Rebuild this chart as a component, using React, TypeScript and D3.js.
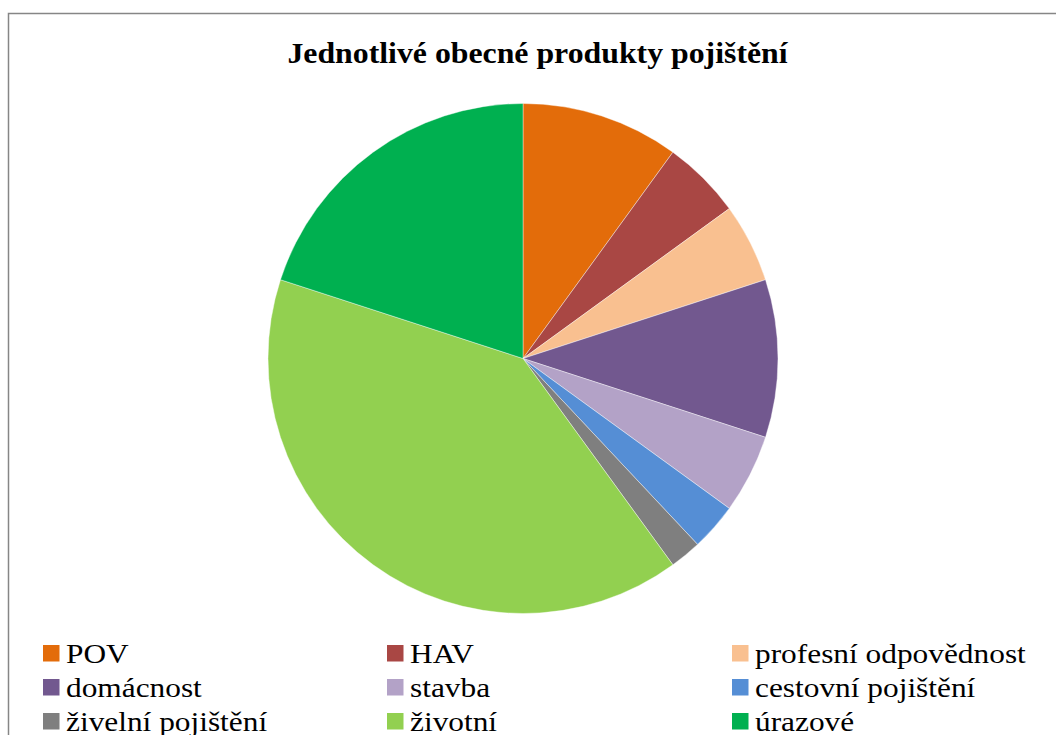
import React from "react";
import * as d3 from "d3";

const categories = [
  "POV",
  "HAV",
  "profesní odpovědnost",
  "domácnost",
  "stavba",
  "cestovní pojištění",
  "živelní pojištění",
  "životní",
  "úrazové",
];
const values = [10, 5, 5, 10, 5, 3, 2, 40, 20];
const colors = [
  "#E36C0A",
  "#A94744",
  "#F9C090",
  "#72588F",
  "#B3A2C7",
  "#558ED5",
  "#7F7F7F",
  "#92D050",
  "#00B050",
];
const title = "Jednotlivé obecné produkty pojištění";

const SERIF = "Liberation Serif, Tinos, Times New Roman, DejaVu Serif, serif";

export default function App() {
  const W = 1056;
  const H = 735;
  const cx = 523;
  const cy = 358.5;
  const r = 255;

  const data = categories.map((c, i) => ({ c, v: values[i], color: colors[i] }));
  const pie = d3
    .pie<{ c: string; v: number; color: string }>()
    .value((d) => d.v)
    .sort(null)
    .startAngle(0)
    .endAngle(2 * Math.PI);
  const arcs = pie(data);
  const arc = d3
    .arc<d3.PieArcDatum<{ c: string; v: number; color: string }>>()
    .innerRadius(0)
    .outerRadius(r);

  const colX = [43, 387, 732];
  const rowY = [645, 679, 713];
  const sq = 16.5;
  const fs = 28;
  const sx = 1.12;

  return (
    <svg
      width={W}
      height={H}
      style={{ position: "absolute", left: 0, top: 0, display: "block" }}
    >
      <rect x={0} y={0} width={W} height={H} fill="#fff" />
      <rect
        x={8.5}
        y={13.5}
        width={W + 20}
        height={H + 20}
        fill="none"
        stroke="#868686"
        strokeWidth={1.5}
      />
      <text
        transform={`translate(537.5,63) scale(1.06,1)`}
        textAnchor="middle"
        style={{ fontFamily: SERIF, fontWeight: "bold", fontSize: "30px" }}
        fill="#000"
      >
        {title}
      </text>
      <g transform={`translate(${cx},${cy})`}>
        {arcs.map((a, i) => (
          <path key={i} d={arc(a) || ""} fill={a.data.color} stroke="#fff" strokeWidth={0.4} />
        ))}
      </g>
      {data.map((d, i) => {
        const col = i % 3;
        const row = Math.floor(i / 3);
        const x = colX[col];
        const y = rowY[row];
        return (
          <g key={d.c}>
            <rect x={x} y={y} width={sq} height={sq} fill={d.color} />
            <text
              transform={`translate(${x + 23},${y + 18}) scale(${sx},1)`}
              style={{ fontFamily: SERIF, fontSize: `${fs}px` }}
              fill="#000"
            >
              {d.c}
            </text>
          </g>
        );
      })}
    </svg>
  );
}
